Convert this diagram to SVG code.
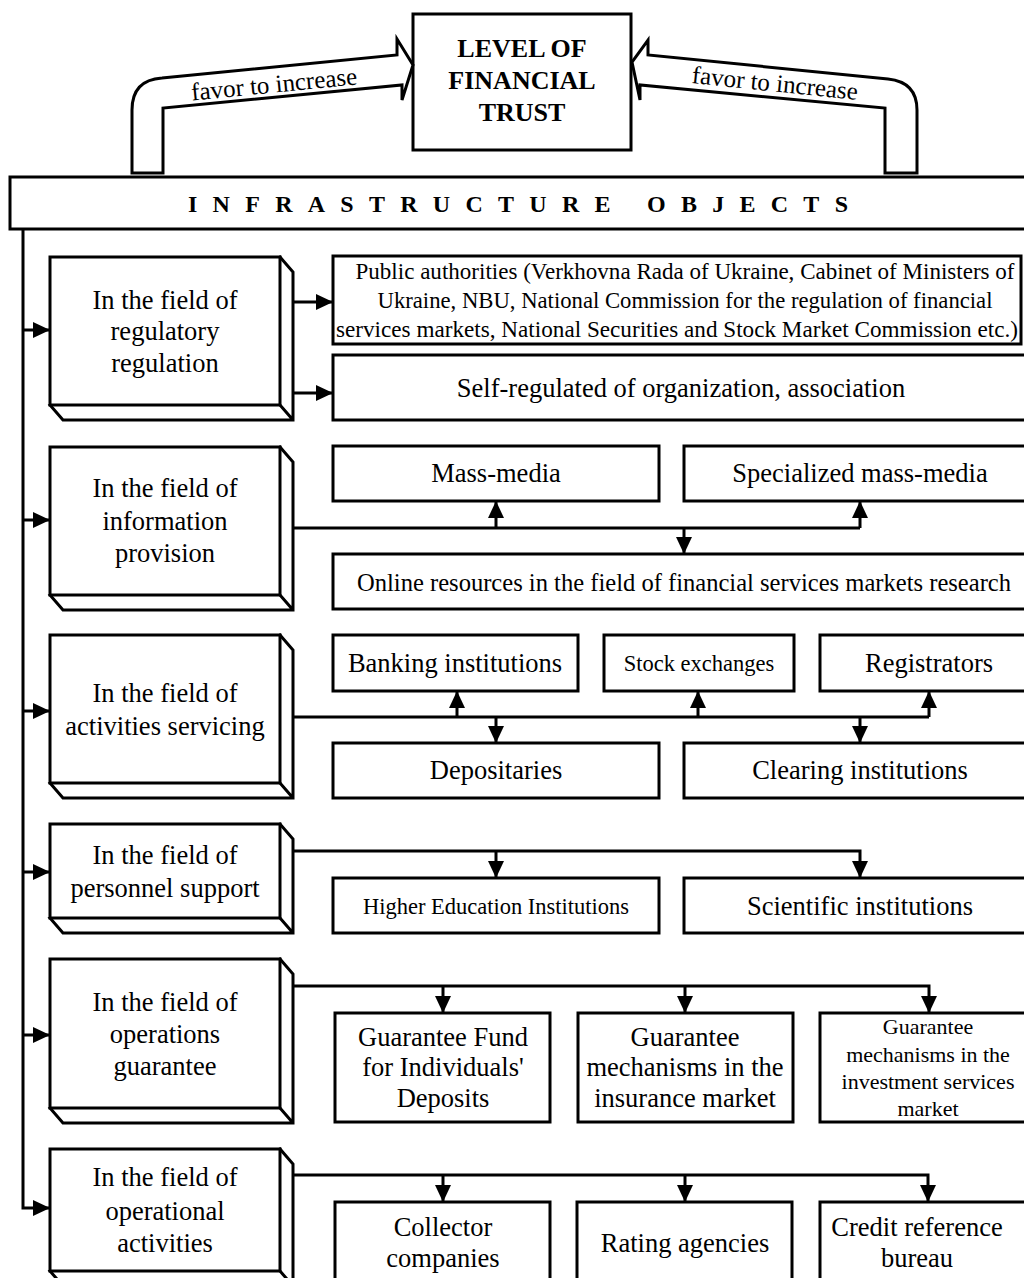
<svg xmlns="http://www.w3.org/2000/svg" width="1024" height="1278" viewBox="0 0 1024 1278">
<style>
.bx{fill:#fff;stroke:#000;stroke-width:3}
.ln{fill:none;stroke:#000;stroke-width:3}
.t{font-family:"Liberation Serif","Times New Roman",serif;fill:#000;text-anchor:middle;dominant-baseline:central}
.big{font-size:26.5px}
.mid{font-size:22.5px}
.sm{font-size:22px}
.bold{font-weight:bold}
</style>
<defs>
<marker id="ah" markerUnits="userSpaceOnUse" markerWidth="18" markerHeight="16" refX="17" refY="8" orient="auto" viewBox="0 0 18 16">
<path d="M0,0 L17,8 L0,16 Z" fill="#000"/>
</marker>
</defs>
<rect width="1024" height="1278" fill="#fff"/>

<g id="trust">
<rect class="bx" x="413" y="14" width="218" height="136"/>
<text class="t bold" style="font-size:26px" x="522" y="48">LEVEL OF</text>
<text class="t bold" style="font-size:26px" x="522" y="80">FINANCIAL</text>
<text class="t bold" style="font-size:26px" x="522" y="112">TRUST</text>
</g>

<g id="favor-left">
<path class="bx" d="M132,173 V110 Q132,80 162,78 L397,55 L397,39 L413,65 L402,100 L402,85 L163,108 V173 Z"/>
<text class="t" style="font-size:25px" x="274" y="84" transform="rotate(-5.6 274 84)">favor to increase</text>
</g>

<g id="favor-right">
<path class="bx" d="M917,173 V110 Q917,82 888,79 L648,55 L648,40 L632,62 L640,100 L640,85 L885,108 V173 Z"/>
<text class="t" style="font-size:25px" x="775" y="83" transform="rotate(5.9 775 83)">favor to increase</text>
</g>

<g id="infrastructure">
<rect class="bx" x="10" y="177" width="1030" height="52"/>
<text class="t bold" style="font-size:24px;text-anchor:start" x="188" y="204" textLength="660" lengthAdjust="spacing">INFRASTRUCTURE OBJECTS</text>
</g>

<g id="connectors">
<path class="ln" d="M23,229 V1208 H50" marker-end="url(#ah)"/>
<path class="ln" d="M23,330 H50" marker-end="url(#ah)"/>
<path class="ln" d="M23,520 H50" marker-end="url(#ah)"/>
<path class="ln" d="M23,711 H50" marker-end="url(#ah)"/>
<path class="ln" d="M23,872 H50" marker-end="url(#ah)"/>
<path class="ln" d="M23,1035 H50" marker-end="url(#ah)"/>

<path class="ln" d="M293,302 H333" marker-end="url(#ah)"/>
<path class="ln" d="M293,393 H333" marker-end="url(#ah)"/>

<path class="ln" d="M293,528 H860"/>
<path class="ln" d="M496,528 V501" marker-end="url(#ah)"/>
<path class="ln" d="M860,528 V501" marker-end="url(#ah)"/>
<path class="ln" d="M684,528 V554" marker-end="url(#ah)"/>

<path class="ln" d="M293,717 H929"/>
<path class="ln" d="M457,717 V691" marker-end="url(#ah)"/>
<path class="ln" d="M698,717 V691" marker-end="url(#ah)"/>
<path class="ln" d="M929,717 V691" marker-end="url(#ah)"/>
<path class="ln" d="M496,717 V743" marker-end="url(#ah)"/>
<path class="ln" d="M860,717 V743" marker-end="url(#ah)"/>

<path class="ln" d="M293,851 H860 V878" marker-end="url(#ah)"/>
<path class="ln" d="M496,851 V878" marker-end="url(#ah)"/>

<path class="ln" d="M293,986 H929 V1013" marker-end="url(#ah)"/>
<path class="ln" d="M443,986 V1013" marker-end="url(#ah)"/>
<path class="ln" d="M685,986 V1013" marker-end="url(#ah)"/>

<path class="ln" d="M293,1175 H928 V1202" marker-end="url(#ah)"/>
<path class="ln" d="M443,1175 V1202" marker-end="url(#ah)"/>
<path class="ln" d="M685,1175 V1202" marker-end="url(#ah)"/>
</g>

<g id="field-regulatory">
<path class="bx" d="M50,405 L63,420 H293 V272 L280,257 Z M280,405 L293,420"/>
<rect class="bx" x="50" y="257" width="230" height="148"/>
<text class="t big" x="165" y="300">In the field of</text>
<text class="t big" x="165" y="331">regulatory</text>
<text class="t big" x="165" y="363">regulation</text>
</g>
<g id="public-authorities">
<rect class="bx" x="333" y="256" width="688" height="88"/>
<text class="t mid" x="685" y="271" textLength="659" lengthAdjust="spacingAndGlyphs">Public authorities (Verkhovna Rada of Ukraine, Cabinet of Ministers of</text>
<text class="t mid" x="685" y="300" textLength="615" lengthAdjust="spacingAndGlyphs">Ukraine, NBU, National Commission for the regulation of financial</text>
<text class="t mid" x="677" y="329" textLength="682" lengthAdjust="spacingAndGlyphs">services markets, National Securities and Stock Market Commission etc.)</text>
</g>
<g id="self-regulated">
<rect class="bx" x="333" y="355" width="700" height="65"/>
<text class="t big" x="681" y="388">Self-regulated of organization, association</text>
</g>

<g id="field-information">
<path class="bx" d="M50,595 L63,610 H293 V462 L280,447 Z M280,595 L293,610"/>
<rect class="bx" x="50" y="447" width="230" height="148"/>
<text class="t big" x="165" y="488">In the field of</text>
<text class="t big" x="165" y="521">information</text>
<text class="t big" x="165" y="553">provision</text>
</g>
<g id="mass-media">
<rect class="bx" x="333" y="446" width="326" height="55"/>
<text class="t big" x="496" y="473">Mass-media</text>
</g>
<g id="specialized-mass-media">
<rect class="bx" x="684" y="446" width="356" height="55"/>
<text class="t big" x="860" y="473">Specialized mass-media</text>
</g>
<g id="online-resources">
<rect class="bx" x="333" y="554" width="707" height="55"/>
<text class="t" style="font-size:25px" x="684" y="582" textLength="654" lengthAdjust="spacingAndGlyphs">Online resources in the field of financial services markets research</text>
</g>

<g id="field-servicing">
<path class="bx" d="M50,783 L63,798 H293 V650 L280,635 Z M280,783 L293,798"/>
<rect class="bx" x="50" y="635" width="230" height="148"/>
<text class="t big" x="165" y="693">In the field of</text>
<text class="t big" x="165" y="726">activities servicing</text>
</g>
<g id="banking">
<rect class="bx" x="333" y="635" width="245" height="56"/>
<text class="t big" x="455" y="663">Banking institutions</text>
</g>
<g id="stock-exchanges">
<rect class="bx" x="604" y="635" width="190" height="56"/>
<text class="t mid" x="699" y="663">Stock exchanges</text>
</g>
<g id="registrators">
<rect class="bx" x="820" y="635" width="220" height="56"/>
<text class="t big" x="929" y="663">Registrators</text>
</g>
<g id="depositaries">
<rect class="bx" x="333" y="743" width="326" height="55"/>
<text class="t big" x="496" y="770">Depositaries</text>
</g>
<g id="clearing">
<rect class="bx" x="684" y="743" width="356" height="55"/>
<text class="t big" x="860" y="770">Clearing institutions</text>
</g>

<g id="field-personnel">
<path class="bx" d="M50,918 L63,933 H293 V839 L280,824 Z M280,918 L293,933"/>
<rect class="bx" x="50" y="824" width="230" height="94"/>
<text class="t big" x="165" y="855">In the field of</text>
<text class="t big" x="165" y="888">personnel support</text>
</g>
<g id="higher-education">
<rect class="bx" x="333" y="878" width="326" height="55"/>
<text class="t mid" x="496" y="906">Higher Education Institutions</text>
</g>
<g id="scientific">
<rect class="bx" x="684" y="878" width="356" height="55"/>
<text class="t big" x="860" y="906">Scientific institutions</text>
</g>

<g id="field-guarantee">
<path class="bx" d="M50,1108 L63,1123 H293 V974 L280,959 Z M280,1108 L293,1123"/>
<rect class="bx" x="50" y="959" width="230" height="149"/>
<text class="t big" x="165" y="1002">In the field of</text>
<text class="t big" x="165" y="1034">operations</text>
<text class="t big" x="165" y="1066">guarantee</text>
</g>
<g id="guarantee-fund">
<rect class="bx" x="335" y="1013" width="215" height="109"/>
<text class="t big" x="443" y="1037">Guarantee Fund</text>
<text class="t big" x="443" y="1067">for Individuals'</text>
<text class="t big" x="443" y="1098">Deposits</text>
</g>
<g id="guarantee-insurance">
<rect class="bx" x="578" y="1013" width="215" height="109"/>
<text class="t big" x="685" y="1037">Guarantee</text>
<text class="t big" x="685" y="1067">mechanisms in the</text>
<text class="t big" x="685" y="1098">insurance market</text>
</g>
<g id="guarantee-investment">
<rect class="bx" x="820" y="1013" width="220" height="109"/>
<text class="t sm" x="928" y="1026">Guarantee</text>
<text class="t sm" x="928" y="1054">mechanisms in the</text>
<text class="t sm" x="928" y="1081">investment services</text>
<text class="t sm" x="928" y="1108">market</text>
</g>

<g id="field-operational">
<path class="bx" d="M50,1271 L63,1286 H293 V1164 L280,1149 Z M280,1271 L293,1286"/>
<rect class="bx" x="50" y="1149" width="230" height="122"/>
<text class="t big" x="165" y="1177">In the field of</text>
<text class="t big" x="165" y="1211">operational</text>
<text class="t big" x="165" y="1243">activities</text>
</g>
<g id="collector">
<rect class="bx" x="335" y="1202" width="215" height="100"/>
<text class="t big" x="443" y="1227">Collector</text>
<text class="t big" x="443" y="1258">companies</text>
</g>
<g id="rating">
<rect class="bx" x="577" y="1202" width="215" height="100"/>
<text class="t big" x="685" y="1243">Rating agencies</text>
</g>
<g id="credit-bureau">
<rect class="bx" x="820" y="1202" width="220" height="100"/>
<text class="t big" x="917" y="1227">Credit reference</text>
<text class="t big" x="917" y="1258">bureau</text>
</g>
</svg>
